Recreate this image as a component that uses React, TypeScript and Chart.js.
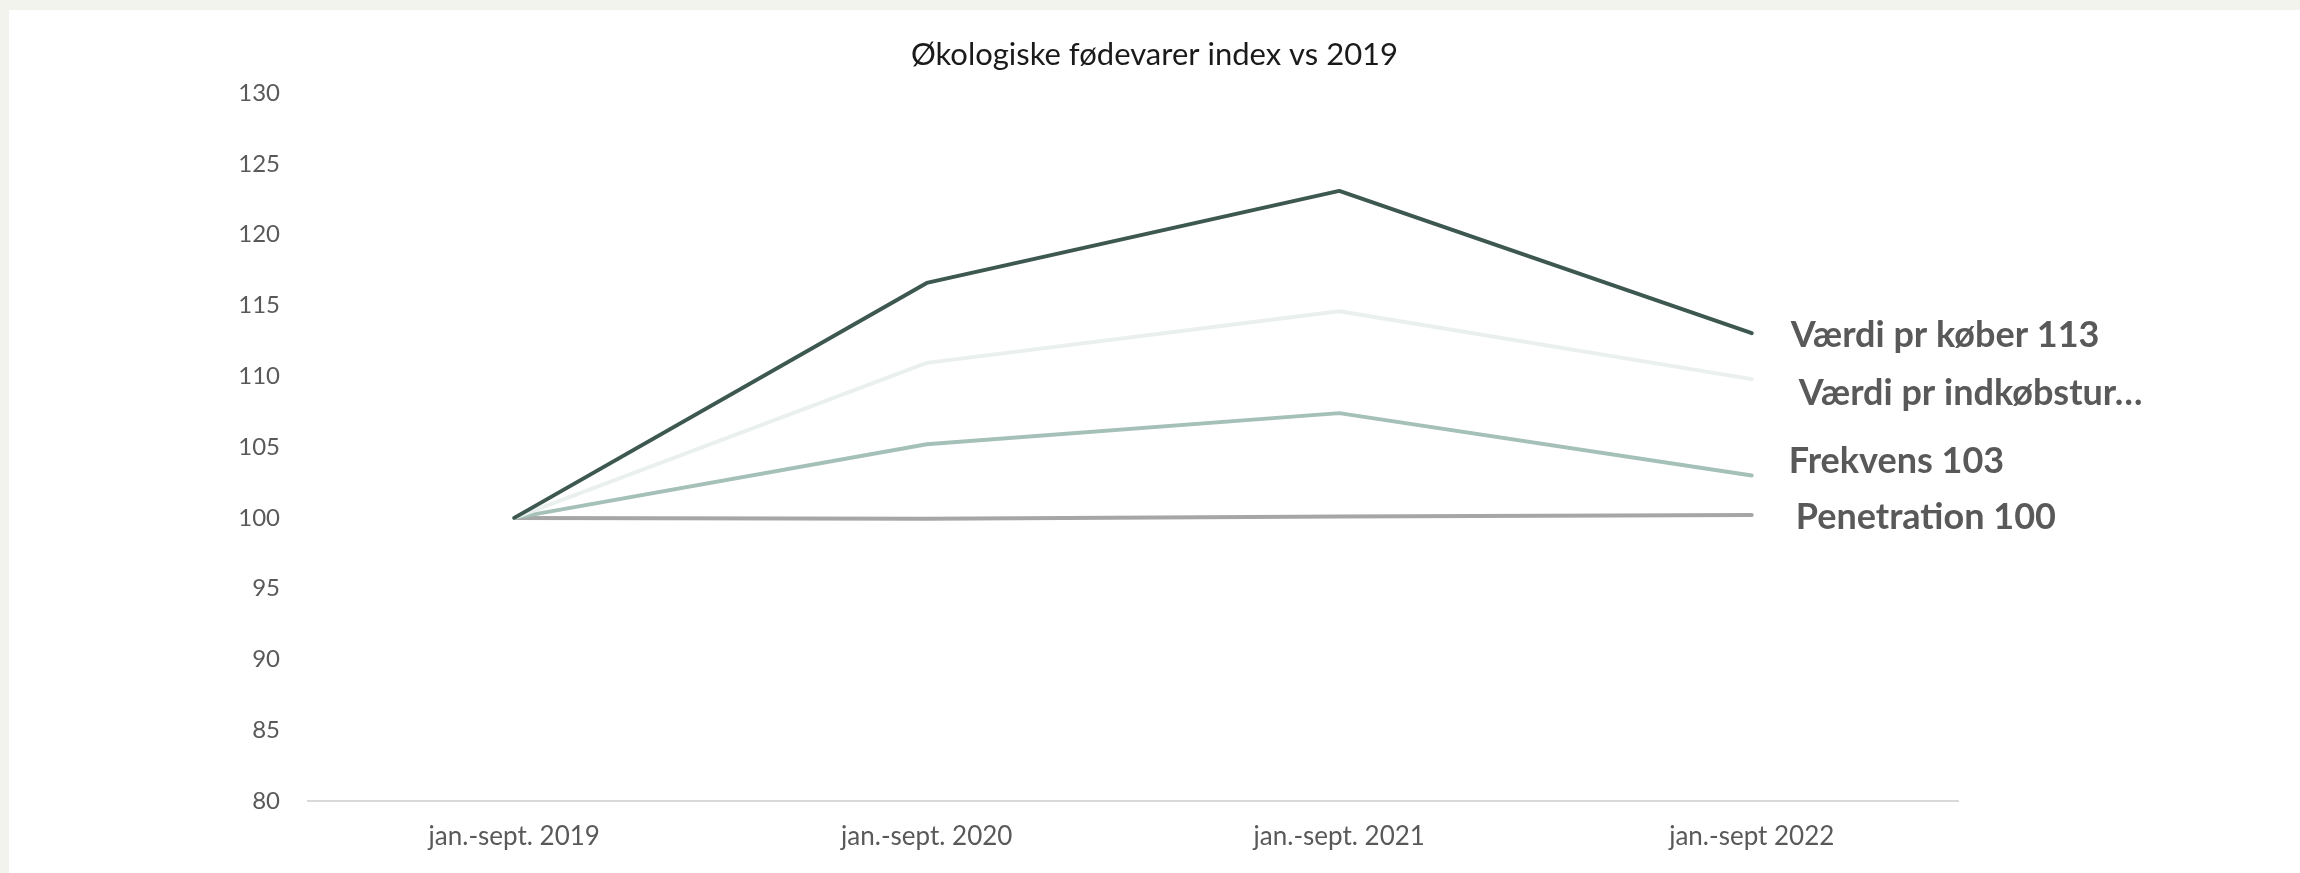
import React, { useEffect, useRef } from "react";
import { Chart, registerables } from "chart.js";

Chart.register(...registerables);

const categories = ["jan.-sept. 2019", "jan.-sept. 2020", "jan.-sept. 2021", "jan.-sept 2022"];
const seriesNames = ["Værdi pr køber", "Værdi pr indkøbstur", "Frekvens", "Penetration"];
const vaerdiPrKoeber = [100, 116.6, 123.1, 113.05];
const vaerdiPrIndkoebstur = [100, 110.95, 114.6, 109.8];
const frekvens = [100, 105.2, 107.4, 103.0];
const penetration = [100, 99.93, 100.1, 100.2];
const endLabels = ["Værdi pr køber 113", "Værdi pr indkøbstur…", "Frekvens 103", "Penetration 100"];
const yTickMin = 80;
const yTickMax = 130;
const yTickStep = 5;

const colors = ["#3d5850", "#e9f0ed", "#a4c0b8", "#a6a6a6"];
const labelDx = [39, 47, 37, 44];
const labelDy = [2, 14, -14, 2];
const FONT = "Lato, 'Noto Sans', sans-serif";

const endLabelPlugin = {
  id: "endLabels",
  afterDatasetsDraw(chart: any) {
    const ctx = chart.ctx;
    ctx.save();
    ctx.font = `bold 36px ${FONT}`;
    ctx.fillStyle = "#595959";
    ctx.textBaseline = "middle";
    ctx.textAlign = "left";
    chart.data.datasets.forEach((_ds: any, i: number) => {
      const meta = chart.getDatasetMeta(i);
      const pt = meta.data[meta.data.length - 1];
      if (pt) ctx.fillText(endLabels[i], pt.x + labelDx[i], pt.y + labelDy[i]);
    });
    ctx.restore();
  },
};

export default function App() {
  const canvasRef = useRef<HTMLCanvasElement | null>(null);

  useEffect(() => {
    if (!canvasRef.current) return;
    const seriesValues = [vaerdiPrKoeber, vaerdiPrIndkoebstur, frekvens, penetration];
    const chart = new Chart(canvasRef.current, {
      type: "line",
      data: {
        labels: categories,
        datasets: seriesNames.map((name, i) => ({
          label: name,
          data: seriesValues[i],
          borderColor: colors[i],
          backgroundColor: colors[i],
          borderWidth: 4,
          pointRadius: 0,
          pointHoverRadius: 0,
          tension: 0,
          borderCapStyle: "round" as const,
          borderJoinStyle: "round" as const,
          fill: false,
        })),
      },
      options: {
        animation: false,
        responsive: false,
        layout: { padding: 0 },
        plugins: {
          legend: { display: false },
          tooltip: { enabled: false },
          title: {
            display: true,
            text: "Økologiske fødevarer index vs 2019",
            color: "#1a1a1a",
            font: { family: FONT, size: 31, weight: "normal" },
            padding: { top: 26, bottom: 20 },
          },
        },
        scales: {
          x: {
            type: "category",
            offset: true,
            grid: { display: false, drawTicks: false },
            border: { display: true, color: "#d9d9d9", width: 2 },
            ticks: { color: "#595959", font: { family: FONT, size: 26 }, padding: 20, maxRotation: 0 },
            afterFit: (s: any) => {
              s.height = 72;
            },
          },
          y: {
            type: "linear",
            position: "left",
            min: yTickMin,
            max: yTickMax,
            ticks: { stepSize: yTickStep, color: "#595959", font: { family: FONT, size: 24 }, padding: 28 },
            grid: { display: false, drawTicks: false },
            border: { display: false },
            afterFit: (s: any) => {
              s.width = 299;
            },
          },
          r: {
            type: "linear",
            position: "right",
            display: true,
            grid: { display: false, drawTicks: false },
            border: { display: false },
            ticks: { display: false },
            afterFit: (s: any) => {
              s.width = 342;
            },
          },
        },
      },
      plugins: [endLabelPlugin],
    });
    return () => chart.destroy();
  }, []);

  return (
    <div style={{ position: "absolute", left: 0, top: 0, width: 2300, height: 873, background: "#f3f3ee", overflow: "hidden" }}>
      <div style={{ position: "absolute", left: 9, top: 10, width: 2291, height: 863, background: "#ffffff" }}>
        <canvas ref={canvasRef} width={2291} height={863} style={{ display: "block", width: 2291, height: 863 }} />
      </div>
    </div>
  );
}
